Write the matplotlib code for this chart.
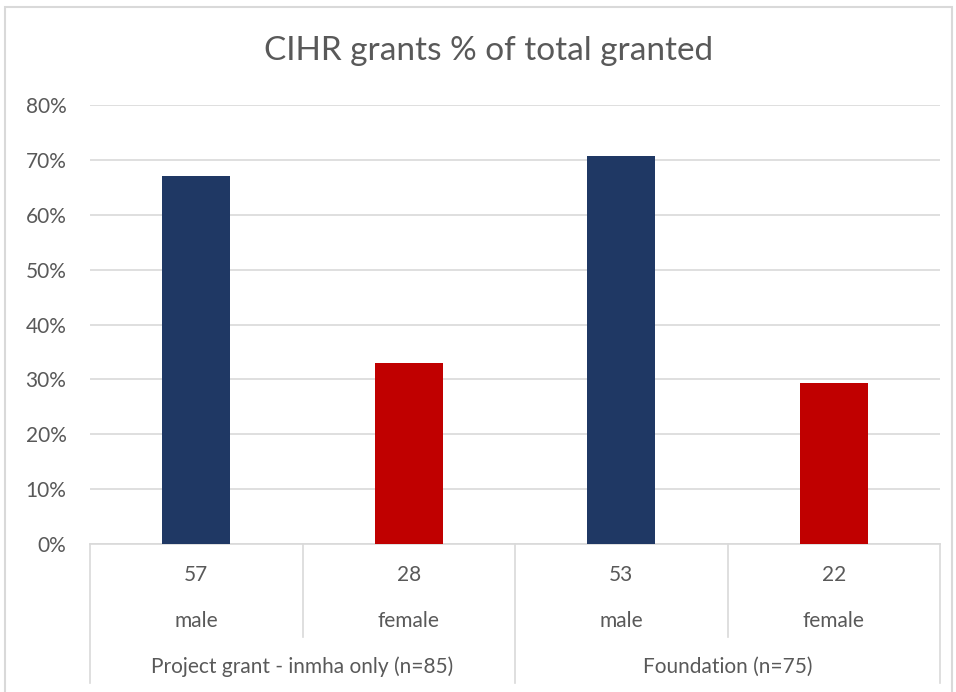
import matplotlib.pyplot as plt
from matplotlib.patches import Rectangle
from matplotlib.lines import Line2D

# data
groups = ['Project grant - inmha only (n=85)', 'Foundation (n=75)']
sexes = ['male', 'female', 'male', 'female']
counts = ['57', '28', '53', '22']
shares = [0.671, 0.329, 0.707, 0.293]
bar_colors = ['#1f3864', '#c00000', '#1f3864', '#c00000']

W, H = 956, 692
plt.rcParams['font.family'] = ['Lato', 'DejaVu Sans']
txt = '#595959'
grid_c = '#d9d9d9'
fs = 15

fig = plt.figure(figsize=(W / 100, H / 100), dpi=100)

# outer chart border
fig.patches.append(Rectangle((5 / W, -0.1), (947 / W), 1 - 7 / H + 0.1,
                             transform=fig.transFigure, fill=False,
                             edgecolor=grid_c, linewidth=1.5))

# plot area in pixels: x 90..940, y 105 (80%)..544 (0%)
x0, x1, ytop, ybot = 90, 940, 105, 544
ax = fig.add_axes([x0 / W, 1 - ybot / H, (x1 - x0) / W, (ybot - ytop) / H])

xs = range(len(shares))
ax.bar(xs, shares, width=0.32, color=bar_colors, zorder=3)
ax.set_xlim(-0.5, len(shares) - 0.5)
ax.set_ylim(0, 0.8)
ax.set_yticks([i / 10 for i in range(9)])
ax.set_yticklabels([f'{i * 10}%' for i in range(9)])
ax.tick_params(axis='y', length=0, pad=17, labelsize=fs, labelcolor=txt)
ax.set_xticks([])
ax.grid(axis='y', color=grid_c, linewidth=1.2, zorder=0)
for s in ['top', 'right', 'left']:
    ax.spines[s].set_visible(False)
ax.spines['bottom'].set_color(grid_c)
ax.spines['bottom'].set_linewidth(1.2)

# category table under the axis
slot = (x1 - x0) / len(shares)

def px(x, y):
    return x / W, 1 - y / H

for i in range(len(shares) + 1):
    xl = x0 + i * slot
    ylow = 683 if i % 2 == 0 else 637
    fig.lines.append(Line2D(*zip(px(xl, ybot), px(xl, ylow)),
                            transform=fig.transFigure, color=grid_c, linewidth=1.2))

for i, (c, s) in enumerate(zip(counts, sexes)):
    xc = x0 + (i + 0.5) * slot
    fig.text(*px(xc, 575), c, ha='center', va='center', fontsize=fs, color=txt)
    fig.text(*px(xc, 621), s, ha='center', va='center', fontsize=fs, color=txt)

for j, g in enumerate(groups):
    xc = x0 + (2 * j + 1) * slot
    fig.text(*px(xc, 667), g, ha='center', va='center', fontsize=fs, color=txt)

fig.text(*px(489, 51), 'CIHR grants % of total granted', ha='center', va='center',
         fontsize=24, color=txt)

fig.savefig('out.png', dpi=100)
